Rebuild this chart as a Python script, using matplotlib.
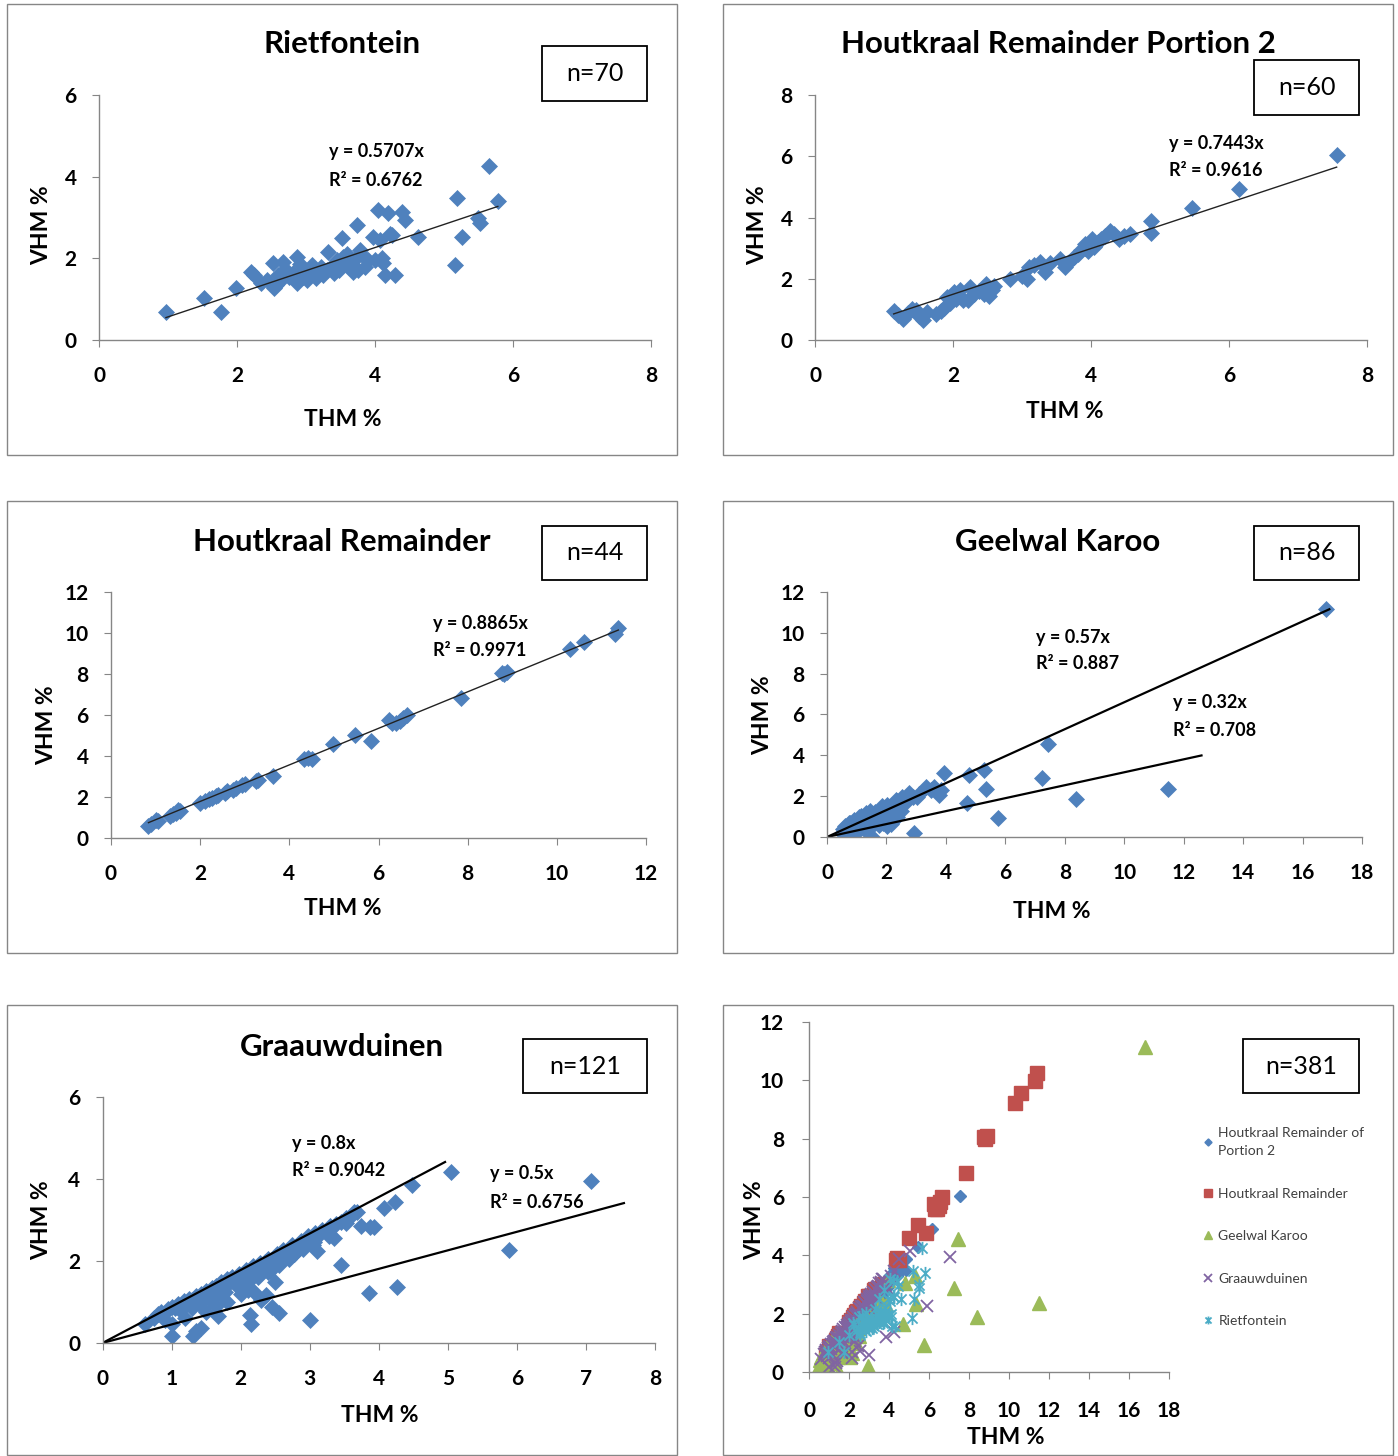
import numpy as np
import matplotlib.pyplot as plt
from matplotlib.patches import Rectangle
from matplotlib.path import Path

plt.rcParams['font.family'] = ['Lato', 'DejaVu Sans']

# ---- data (THM %, VHM %) ----
riet_x = [0.97, 1.52, 1.77, 1.99, 2.20, 2.25, 2.43, 2.52, 2.54, 2.56, 2.60, 2.67, 2.70, 2.75,
          2.81, 2.87, 2.87, 2.92, 2.95, 3.01, 3.05, 3.09, 3.12, 3.18, 3.22, 3.25, 3.30, 3.32,
          3.36, 3.40, 3.45, 3.52, 3.54, 3.58, 3.63, 3.68, 3.70, 3.74, 3.76, 3.78, 3.82, 3.86,
          3.90, 3.97, 4.00, 4.04, 4.07, 4.12, 4.14, 4.19, 4.22, 4.25, 4.29, 4.39, 4.43, 4.62,
          5.16, 5.19, 5.26, 5.49, 5.52, 5.65, 5.78, 2.35, 2.62, 3.15, 3.48, 2.98, 3.60, 4.10]
riet_y = [0.69, 1.03, 0.69, 1.27, 1.67, 1.60, 1.47, 1.88, 1.27, 1.35, 1.60, 1.91, 1.75, 1.55,
          1.64, 2.03, 1.40, 1.85, 1.55, 1.47, 1.60, 1.84, 1.70, 1.62, 1.78, 1.59, 1.71, 2.16,
          1.80, 1.65, 1.95, 2.50, 2.03, 1.85, 1.78, 1.67, 1.95, 2.82, 1.72, 2.20, 2.05, 1.79,
          1.95, 2.52, 1.96, 3.18, 2.45, 1.89, 1.59, 3.11, 2.60, 2.57, 1.59, 3.13, 2.94, 2.52,
          1.84, 3.48, 2.52, 2.99, 2.87, 4.26, 3.40, 1.40, 1.45, 1.52, 1.72, 1.72, 2.10, 2.00]

hrp2_x = [1.14, 1.20, 1.28, 1.35, 1.46, 1.50, 1.56, 1.62, 1.75, 1.83, 1.87, 1.91, 1.96, 2.01,
          2.08, 2.14, 2.22, 2.25, 2.30, 2.38, 2.45, 2.48, 2.52, 2.56, 2.60, 2.82, 3.07, 3.10,
          3.18, 3.26, 3.34, 3.40, 3.55, 3.62, 3.68, 3.81, 3.85, 3.91, 3.96, 4.01, 4.05, 4.10,
          4.14, 4.20, 4.27, 4.33, 4.40, 4.48, 4.56, 4.87, 4.87, 5.46, 6.14, 7.56, 1.40, 2.10,
          2.05, 3.00, 3.75, 3.92]
hrp2_y = [0.95, 0.82, 0.70, 0.88, 0.99, 0.80, 0.65, 0.92, 0.85, 0.95, 1.05, 1.41, 1.20, 1.57,
          1.45, 1.30, 1.30, 1.73, 1.50, 1.60, 1.51, 1.84, 1.45, 1.62, 1.75, 2.00, 2.00, 2.38,
          2.45, 2.54, 2.22, 2.50, 2.65, 2.38, 2.55, 2.81, 2.95, 3.14, 2.92, 3.30, 3.05, 3.20,
          3.30, 3.40, 3.57, 3.45, 3.30, 3.38, 3.46, 3.89, 3.51, 4.30, 4.92, 6.05, 1.02, 1.62,
          1.35, 2.10, 2.70, 3.00]

hr_x = [0.84, 0.90, 1.00, 1.05, 1.33, 1.38, 1.45, 1.50, 1.55, 1.99, 2.20, 2.27, 2.35, 2.41,
        2.55, 2.61, 2.73, 2.80, 2.93, 3.00, 3.25, 3.30, 3.64, 4.34, 4.42, 4.50, 4.98, 5.47,
        5.83, 6.23, 6.30, 6.39, 6.48, 6.55, 6.63, 7.84, 8.76, 8.82, 8.88, 10.29, 10.61, 11.30,
        11.38, 2.10]
hr_y = [0.60, 0.70, 0.89, 0.85, 1.09, 1.15, 1.22, 1.35, 1.30, 1.73, 1.88, 1.94, 2.05, 2.10,
        2.20, 2.27, 2.35, 2.45, 2.59, 2.62, 2.80, 2.84, 3.03, 3.84, 3.90, 3.84, 4.59, 5.03,
        4.75, 5.75, 5.60, 5.59, 5.70, 5.83, 6.00, 6.81, 8.06, 8.00, 8.10, 9.24, 9.56, 9.97,
        10.26, 1.80]

gk_x = [16.80, 11.48, 8.39, 7.43, 7.24, 5.74, 5.35, 5.29, 4.79, 4.70, 3.94, 3.83, 3.77, 3.32,
        2.93, 3.04, 2.76, 2.53, 2.36, 2.48, 2.31, 2.03, 2.03, 1.86, 1.63, 1.52, 1.46, 1.30,
        1.07, 0.96, 0.84, 0.73, 0.68, 0.62, 3.10, 2.90, 2.65, 2.20, 2.10, 1.95, 1.80, 1.70,
        1.60, 1.55, 1.40, 1.35, 1.25, 1.20, 1.15, 1.10, 1.00, 0.95, 0.90, 0.85, 0.80, 0.78,
        0.75, 0.70, 0.65, 0.60, 0.55, 0.50, 1.90, 2.15, 1.75, 1.45, 1.25, 1.05, 2.60, 2.45,
        2.25, 2.00, 1.70, 3.50, 3.60, 1.50, 1.35, 1.00, 0.88, 0.70, 1.85, 2.70, 1.60, 1.20,
        0.95, 2.35]
gk_y = [11.15, 2.37, 1.87, 4.55, 2.88, 0.93, 2.34, 3.28, 3.04, 1.66, 3.15, 2.31, 2.07, 2.47,
        0.20, 1.98, 2.15, 1.98, 1.74, 1.25, 1.82, 1.58, 0.52, 1.25, 0.85, 0.00, 1.25, 1.17,
        1.00, 0.68, 0.03, 0.68, 0.11, 0.52, 2.10, 1.95, 1.90, 1.55, 1.40, 1.30, 1.35, 1.10,
        1.20, 0.95, 1.00, 0.70, 0.90, 0.80, 1.05, 0.75, 0.80, 0.55, 0.85, 0.60, 0.40, 0.70,
        0.30, 0.45, 0.35, 0.25, 0.40, 0.20, 0.70, 0.65, 0.60, 0.50, 0.40, 0.30, 1.60, 1.50,
        1.30, 1.05, 0.90, 2.30, 2.45, 1.05, 0.95, 0.60, 0.45, 0.55, 1.50, 1.80, 0.70, 0.55,
        0.20, 1.00]

gr_x = [0.62, 0.75, 0.80, 0.85, 0.90, 0.95, 1.00, 1.05, 1.10, 1.12, 1.18, 1.22, 1.25, 1.30,
        1.35, 1.38, 1.42, 1.45, 1.50, 1.52, 1.58, 1.60, 1.65, 1.68, 1.72, 1.75, 1.80, 1.85,
        1.88, 1.92, 1.98, 2.02, 2.08, 2.12, 2.18, 2.22, 2.28, 2.35, 2.40, 2.45, 2.52, 2.58,
        2.62, 2.68, 2.75, 2.80, 2.88, 2.92, 2.98, 3.02, 3.08, 3.12, 3.18, 3.25, 3.30, 3.38,
        3.45, 3.52, 3.60, 3.68,
        1.30, 1.40, 1.55, 1.62, 1.70, 1.78, 1.95, 2.05, 2.15, 2.25, 2.30, 2.42, 2.55, 2.70,
        2.78, 2.90, 3.05, 3.10, 3.28, 3.35, 3.05,
        1.00, 1.01, 1.31, 1.42, 1.35, 1.67, 2.10, 2.13, 2.15, 2.39, 2.37, 2.46, 2.56, 3.01,
        3.45, 3.86, 3.74, 3.88, 3.52, 3.64, 3.28, 3.06, 2.78, 5.04, 7.07, 5.89, 4.27, 4.48,
        4.24, 4.08, 3.93, 0.90, 1.20, 1.50, 1.80, 2.00, 2.20, 2.30, 1.65, 2.50]
gr_y = [0.46, 0.62, 0.70, 0.75, 0.72, 0.82, 0.88, 0.85, 0.95, 0.80, 1.02, 0.95, 1.08, 1.05,
        1.15, 1.00, 1.20, 1.10, 1.28, 1.15, 1.35, 1.22, 1.40, 1.30, 1.48, 1.38, 1.55, 1.50,
        1.60, 1.55, 1.68, 1.62, 1.78, 1.72, 1.88, 1.80, 1.95, 1.98, 2.05, 2.00, 2.18, 2.15,
        2.28, 2.25, 2.40, 2.35, 2.50, 2.45, 2.60, 2.55, 2.68, 2.62, 2.75, 2.72, 2.85, 2.90,
        2.95, 3.05, 3.10, 3.20,
        0.85, 0.95, 1.05, 1.12, 1.20, 1.25, 1.40, 1.45, 1.55, 1.60, 1.70, 1.75, 1.90, 2.05,
        2.18, 2.30, 2.40, 2.25, 2.60, 2.55, 2.50,
        0.16, 0.47, 0.16, 0.37, 0.30, 0.65, 1.30, 0.68, 0.47, 1.74, 1.17, 0.88, 0.73, 0.57,
        1.90, 1.21, 2.85, 2.82, 2.92, 3.20, 2.67, 2.47, 2.18, 4.16, 3.96, 2.28, 1.37, 3.86,
        3.45, 3.29, 2.84, 0.55, 0.60, 0.75, 1.00, 1.20, 1.25, 1.05, 0.90, 1.50]

# trend lines as drawn: (slope, x end) ; labels as printed
gk_lines = [(0.66, 16.9), (0.317, 12.6)]
gr_lines = [(0.89, 4.96), (0.452, 7.55)]

BLUE, RED, GREEN, PURPLE, CYAN = '#4F81BD', '#C0504D', '#9BBB59', '#8064A2', '#4BACC6'
GRAY = '#868686'

W, H = 1398, 1456
fig = plt.figure(figsize=(W / 100, H / 100), dpi=100)


def box(x0, y0, x1, y1, color=GRAY, lw=1.0):
    fig.patches.append(Rectangle((x0 / W, 1 - y1 / H), (x1 - x0) / W, (y1 - y0) / H,
                                 transform=fig.transFigure, fill=False, edgecolor=color, lw=lw))


def ftext(x, y, s, **kw):
    fig.text(x / W, 1 - y / H, s, **kw)


def make_ax(x0, x1, ytop, ybot, xmax, xstep, ymax, ystep, xlab_pos, ylab_pos, xpad=14, ypad=11):
    ax = fig.add_axes([x0 / W, 1 - ybot / H, (x1 - x0) / W, (ybot - ytop) / H])
    ax.set_xlim(0, xmax)
    ax.set_ylim(0, ymax)
    ax.set_xticks(np.arange(0, xmax + 0.01, xstep))
    ax.set_yticks(np.arange(0, ymax + 0.01, ystep))
    for s in ['top', 'right']:
        ax.spines[s].set_visible(False)
    for s in ['left', 'bottom']:
        ax.spines[s].set_color(GRAY)
        ax.spines[s].set_linewidth(1.0)
    ax.tick_params(direction='out', length=5, color=GRAY, labelsize=15)
    ax.tick_params(axis='x', pad=xpad)
    ax.tick_params(axis='y', pad=ypad)
    for lab in ax.get_xticklabels() + ax.get_yticklabels():
        lab.set_fontweight('bold')
    ax.set_xlabel('THM %', fontsize=16.5, fontweight='bold')
    ax.set_ylabel('VHM %', fontsize=16.5, fontweight='bold')
    ax.xaxis.set_label_coords((xlab_pos[0] - x0) / (x1 - x0), (ybot - xlab_pos[1]) / (ybot - ytop))
    ax.yaxis.set_label_coords((ylab_pos[0] - x0) / (x1 - x0), (ybot - ylab_pos[1]) / (ybot - ytop))
    ax.xaxis.label.set_va('center')
    ax.yaxis.label.set_va('center')
    ax.patch.set_alpha(0)
    return ax


def scatter(ax, x, y):
    ax.plot(x, y, linestyle='none', marker='D', ms=8.5, color=BLUE, mec=BLUE, mew=0.5)


def fit_line(ax, x, y, lw=1.0, color='#222222'):
    x = np.asarray(x)
    y = np.asarray(y)
    k = np.sum(x * y) / np.sum(x * x)
    xs = np.array([x.min(), x.max()])
    ax.plot(xs, k * xs, color=color, lw=lw)


def eq(x, y1, y2, s1, s2, size=13):
    ftext(x, y1, s1, fontsize=size, fontweight='bold', va='center')
    ftext(x, y2, s2, fontsize=size, fontweight='bold', va='center')


def title(x, y, s):
    ftext(x, y, s, fontsize=22.5, fontweight='bold', ha='center', va='center')


def nbox(x0, y0, x1, y1, s):
    box(x0, y0, x1, y1, color='black', lw=1.3)
    ftext((x0 + x1) / 2, (y0 + y1) / 2, s, fontsize=18, ha='center', va='center')


# panel frames
for cx in [(7, 677), (723, 1393)]:
    for cy in [(4, 455), (501, 953), (1005, 1455)]:
        box(cx[0], cy[0], cx[1], cy[1])

# 1 Rietfontein
ax1 = make_ax(99, 651, 95, 340, 8, 2, 6, 2, (343, 420), (42, 225))
scatter(ax1, riet_x, riet_y)
fit_line(ax1, riet_x, riet_y)
title(342, 44, 'Rietfontein')
eq(329, 152, 180, 'y = 0.5707x', 'R² = 0.6762')
nbox(542, 46, 647, 101, 'n=70')

# 2 Houtkraal Remainder Portion 2
ax2 = make_ax(815, 1367, 95, 340, 8, 2, 8, 2, (1065, 412), (758, 225))
scatter(ax2, hrp2_x, hrp2_y)
fit_line(ax2, hrp2_x, hrp2_y)
title(1058, 44, 'Houtkraal Remainder Portion 2')
eq(1169, 143, 171, 'y = 0.7443x', 'R² = 0.9616')
nbox(1254, 60, 1359, 115, 'n=60')

# 3 Houtkraal Remainder
ax3 = make_ax(111, 646, 592, 838, 12, 2, 12, 2, (343, 909), (47, 725))
scatter(ax3, hr_x, hr_y)
fit_line(ax3, hr_x, hr_y)
title(342, 542, 'Houtkraal Remainder')
eq(433, 623, 651, 'y = 0.8865x', 'R² = 0.9971')
nbox(542, 526, 647, 580, 'n=44')

# 4 Geelwal Karoo
ax4 = make_ax(827, 1362, 592, 837, 18, 2, 12, 2, (1052, 912), (763, 715))
scatter(ax4, gk_x, gk_y)
for k, xe in gk_lines:
    ax4.plot([0, xe], [0, k * xe], color='black', lw=1.6)
title(1058, 542, 'Geelwal Karoo')
eq(1036, 637, 664, 'y = 0.57x', 'R² = 0.887')
eq(1173, 702, 730, 'y = 0.32x', 'R² = 0.708')
nbox(1254, 526, 1359, 580, 'n=86')

# 5 Graauwduinen
ax5 = make_ax(102.5, 655, 1097, 1343, 8, 1, 6, 2, (380, 1415), (42, 1220))
scatter(ax5, gr_x, gr_y)
for k, xe in gr_lines:
    ax5.plot([0, xe], [0, k * xe], color='black', lw=1.6)
title(342, 1047, 'Graauwduinen')
eq(292, 1143, 1171, 'y = 0.8x', 'R² = 0.9042')
eq(490, 1174, 1202, 'y = 0.5x', 'R² = 0.6756')
nbox(523, 1039, 647, 1093, 'n=121')

# 6 all sites
ax6 = make_ax(809, 1169, 1022, 1372, 18, 2, 12, 2, (1006, 1438), (755, 1220), xpad=16, ypad=13)
star = Path([(-1, -1), (1, 1), (-1, 1), (1, -1), (0, -1.3), (0, 1.3)],
            [Path.MOVETO, Path.LINETO] * 3)
ax6.plot(hrp2_x, hrp2_y, linestyle='none', marker='D', ms=6, color=BLUE,
         label='Houtkraal Remainder of\nPortion 2')
ax6.plot(hr_x, hr_y, linestyle='none', marker='s', ms=9.5, color=RED, label='Houtkraal Remainder')
ax6.plot(gk_x, gk_y, linestyle='none', marker='^', ms=10, color=GREEN, label='Geelwal Karoo')
ax6.plot(gr_x, gr_y, linestyle='none', marker='x', ms=9, mew=1.3, color=PURPLE, label='Graauwduinen')
ax6.plot(riet_x, riet_y, linestyle='none', marker=star, ms=9.5, mew=1.3, color=CYAN, label='Rietfontein')
leg = ax6.legend(loc='upper left', bbox_to_anchor=(1203 / W, 1 - 1127 / H), bbox_transform=fig.transFigure,
                 frameon=False, fontsize=10, labelcolor='#404040', handlelength=0.7, handletextpad=0.4,
                 markerscale=0.6, labelspacing=2.2, borderpad=0, borderaxespad=0)
for t in leg.get_texts():
    t.set_linespacing(1.6)
nbox(1243, 1039, 1359, 1093, 'n=381')

fig.savefig('out.png', dpi=100)
